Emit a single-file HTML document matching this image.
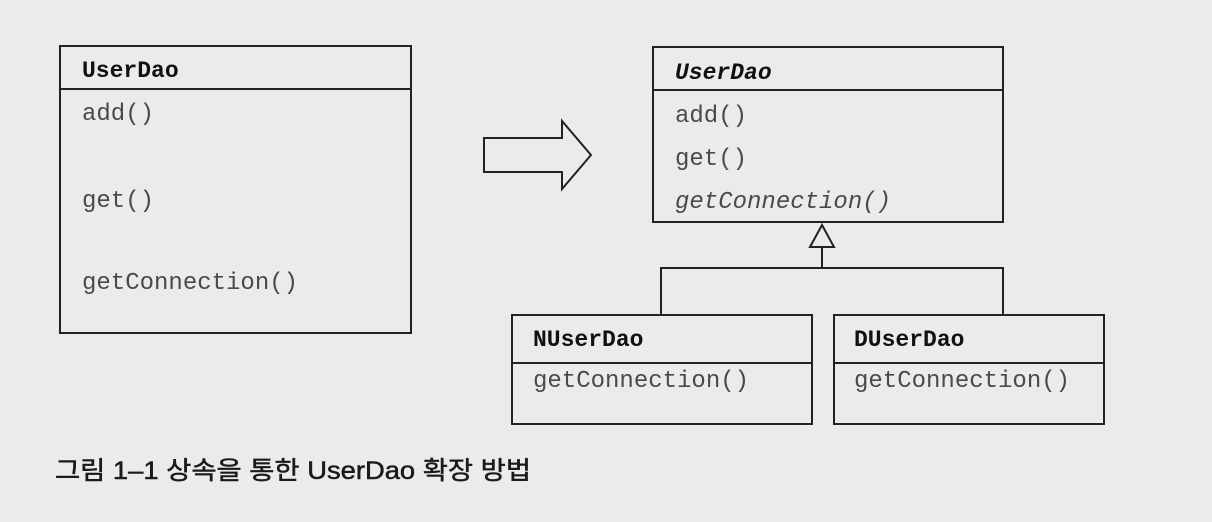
<!DOCTYPE html>
<html><head><meta charset="utf-8"><style>
html,body{margin:0;padding:0;background:#ebebeb;}
svg{display:block;}
.m{font-family:"Liberation Mono",monospace;font-size:24px;fill:#4a4a4a;}
.h{font-family:"Liberation Mono",monospace;font-size:23px;font-weight:bold;fill:#111;}
.c{font-family:"Liberation Sans","Noto Sans CJK KR",sans-serif;font-size:25px;fill:#1a1a1a;stroke:#1a1a1a;stroke-width:0.5;}
</style></head><body>
<svg width="1212" height="522" viewBox="0 0 1212 522" xmlns="http://www.w3.org/2000/svg">
<rect width="1212" height="522" fill="#ebebeb"/>
<g fill="none" stroke="#222" stroke-width="2">
<rect x="60" y="46" width="351" height="287"/>
<line x1="60" y1="89" x2="411" y2="89"/>
<polygon points="484,138 562,138 562,121 591,155 562,189 562,172 484,172"/>
<rect x="653" y="47" width="350" height="175"/>
<line x1="653" y1="90" x2="1003" y2="90"/>
<polygon points="822,225 810,247 834,247"/>
<line x1="822" y1="247" x2="822" y2="268"/>
<polyline points="661,315 661,268 1003,268 1003,315"/>
<rect x="512" y="315" width="300" height="109"/>
<line x1="512" y1="363" x2="812" y2="363"/>
<rect x="834" y="315" width="270" height="109"/>
<line x1="834" y1="363" x2="1104" y2="363"/>
</g>
<text class="h" x="82" y="77">UserDao</text>
<text class="m" x="82" y="120">add()</text>
<text class="m" x="82" y="207">get()</text>
<text class="m" x="82" y="289">getConnection()</text>
<text class="h" x="675" y="79" font-style="italic">UserDao</text>
<text class="m" x="675" y="122">add()</text>
<text class="m" x="675" y="165">get()</text>
<text class="m" x="675" y="208" font-style="italic">getConnection()</text>
<text class="h" x="533" y="346">NUserDao</text>
<text class="m" x="533" y="387">getConnection()</text>
<text class="h" x="854" y="346">DUserDao</text>
<text class="m" x="854" y="387">getConnection()</text>
<text class="c" x="55" y="479" textLength="476" lengthAdjust="spacingAndGlyphs">그림 1–1 상속을 통한 UserDao 확장 방법</text>
</svg>
</body></html>
